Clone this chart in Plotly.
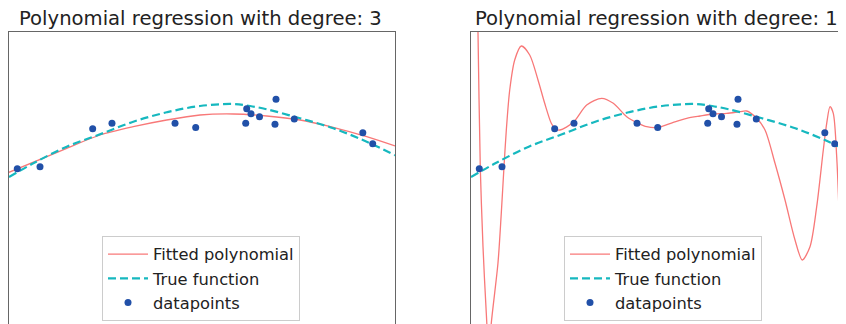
import plotly.graph_objects as go

# ---- data ----
pts_x = [0.0215, 0.0803, 0.2168, 0.2668, 0.4301, 0.4837, 0.6132, 0.6158,
         0.6269, 0.6490, 0.6891, 0.6917, 0.7391, 0.9166, 0.9422]
pts_y = [0.093, 0.113, 0.493, 0.547, 0.547, 0.505, 0.547, 0.692,
         0.643, 0.613, 0.537, 0.787, 0.590, 0.452, 0.343]

true_x = [0.0, 0.063, 0.1495, 0.2358, 0.322, 0.4085, 0.4948, 0.581,
          0.6244, 0.6676, 0.7539, 0.8402, 0.9267, 1.0]
true_y = [0.01, 0.147, 0.313, 0.437, 0.563, 0.657, 0.72, 0.74,
          0.72, 0.687, 0.597, 0.497, 0.363, 0.227]

fit3_x = [0.0, 0.1495, 0.2358, 0.322, 0.4085, 0.4948, 0.581, 0.6676,
          0.7539, 0.8402, 0.9267, 1.0]
fit3_y = [0.057, 0.297, 0.43, 0.513, 0.58, 0.63, 0.64, 0.62,
          0.58, 0.507, 0.413, 0.32]

fit11_x = [0.0142, 0.0181, 0.0241, 0.0311, 0.0396, 0.0466, 0.0526, 0.0699,
           0.0785, 0.0855, 0.0915, 0.1003, 0.1132, 0.1303, 0.1521, 0.1736,
           0.1909, 0.2080, 0.2184, 0.2306, 0.2650, 0.2997, 0.3386, 0.3687,
           0.4034, 0.4334, 0.4552, 0.4852, 0.5241, 0.5588, 0.5933, 0.6277,
           0.6624, 0.6969, 0.7142, 0.7401, 0.7617, 0.7876, 0.8135, 0.8394,
           0.8583, 0.8782, 0.8956, 0.9127, 0.9215, 0.9301, 0.9386, 0.9474,
           0.9560, 0.9619, 0.9663]
fit11_y = [2.38, 1.46, 0.10, -0.687, -1.353, -1.77, -1.45, -0.85,
           -0.35, 0.113, 0.48, 0.88, 1.18, 1.32, 1.23, 0.98,
           0.747, 0.547, 0.49, 0.48, 0.557, 0.73, 0.797, 0.747,
           0.613, 0.547, 0.513, 0.507, 0.557, 0.597, 0.62, 0.64,
           0.647, 0.663, 0.67, 0.597, 0.48, 0.147, -0.22, -0.62,
           -0.82, -0.687, -0.287, 0.28, 0.547, 0.713, 0.647, 0.213,
           -0.62, -1.453, -2.22]

titles = ["Polynomial regression with degree: 3",
          "Polynomial regression with degree: 11"]
names = ["Fitted polynomial", "True function", "datapoints"]

RED = "#f87878"
CYAN = "#16b8bf"
BLUE = "#2150a8"
FONT = "DejaVu Sans"

# page body has an 8px margin, so the figure is 8px smaller and everything shifted by -8
OFF = 8
W, H = 846 - OFF, 324 - OFF
TOP = 32 - OFF
PH = H - TOP

fig = go.Figure()

panels = [
    dict(fx=fit3_x, fy=fit3_y, xa="x", ya="y", legend="legend"),
    dict(fx=fit11_x, fy=fit11_y, xa="x2", ya="y2", legend="legend2"),
]
for p in panels:
    fig.add_trace(go.Scatter(x=p["fx"], y=p["fy"], mode="lines", name=names[0],
                             line=dict(color=RED, width=1.3, shape="spline", smoothing=0.8),
                             xaxis=p["xa"], yaxis=p["ya"], legend=p["legend"]))
    fig.add_trace(go.Scatter(x=true_x, y=true_y, mode="lines", name=names[1],
                             line=dict(color=CYAN, width=2.2, dash="8px,4px", shape="spline"),
                             xaxis=p["xa"], yaxis=p["ya"], legend=p["legend"]))
    fig.add_trace(go.Scatter(x=pts_x, y=pts_y, mode="markers", name=names[2],
                             marker=dict(color=BLUE, size=7),
                             xaxis=p["xa"], yaxis=p["ya"], legend=p["legend"]))

axis_common = dict(showgrid=False, zeroline=False, showticklabels=False, ticks="")
frame = dict(showline=True, linecolor="#666666", linewidth=1.2)

legend_common = dict(font=dict(family=FONT, size=16.3, color="#222"),
                     bgcolor="white", bordercolor="#cccccc", borderwidth=1,
                     xanchor="left", yanchor="bottom", y=(324 - 321) / PH,
                     traceorder="normal", itemwidth=40)

fig.update_layout(
    width=W, height=H,
    margin=dict(l=0, r=0, t=TOP, b=0),
    paper_bgcolor="white", plot_bgcolor="white",
    showlegend=True,
    xaxis=dict(domain=[(9 - OFF) / W, (395 - OFF) / W], range=[0, 1], side="top",
               **frame, **axis_common),
    yaxis=dict(domain=[0, 1], range=[-1.46, 1.46], mirror=True, **frame, **axis_common),
    xaxis2=dict(domain=[(471 - OFF) / W, 1], range=[0, 375 / 386], side="top", anchor="y2",
                **frame, **axis_common),
    yaxis2=dict(domain=[0, 1], range=[-1.46, 1.46], anchor="x2", **frame, **axis_common),
    legend=dict(x=(102 - OFF) / W, **legend_common),
    legend2=dict(x=(564 - OFF) / W, **legend_common),
    annotations=[
        dict(text=titles[0], x=(200 - OFF) / W, y=1, xref="paper", yref="paper",
             xanchor="center", yanchor="bottom", showarrow=False,
             font=dict(family=FONT, size=19.6, color="#222")),
        dict(text=titles[1], x=(662 - OFF) / W, y=1, xref="paper", yref="paper",
             xanchor="center", yanchor="bottom", showarrow=False,
             font=dict(family=FONT, size=19.6, color="#222")),
    ],
)

fig.write_html("out.html")
